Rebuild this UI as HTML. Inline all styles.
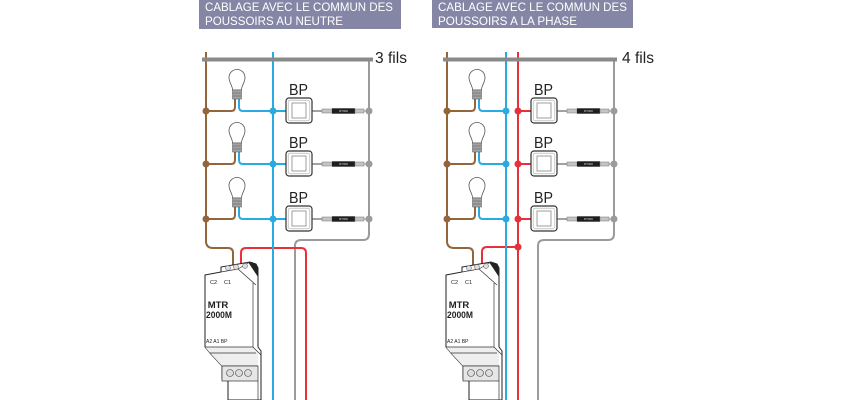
<!DOCTYPE html>
<html><head><meta charset="utf-8">
<style>html,body{margin:0;padding:0;background:#fff}svg{display:block}</style>
</head><body>
<svg width="841" height="400" viewBox="0 0 841 400" xmlns="http://www.w3.org/2000/svg" font-family="'Liberation Sans', sans-serif">
<defs>
  <g id="bulb">
    <path d="M-4.5,-21 C-4.5,-26 -8,-28 -8,-33.5 A8 8 0 1 1 8,-33.5 C8,-28 4.5,-26 4.5,-21 Z" fill="#fff" stroke="#555" stroke-width="0.8"/>
    <rect x="-4.5" y="-21" width="9" height="9" fill="#a3a3a3" stroke="#555" stroke-width="0.5"/>
    <path d="M-4.5,-18 H4.5 M-4.5,-15 H4.5" stroke="#555" stroke-width="0.6"/>
  </g>
  <g id="box">
    <rect x="0" y="0" width="26" height="25" rx="3" fill="#fff" stroke="#333" stroke-width="1.2"/>
    <rect x="2.2" y="2.2" width="21.6" height="20.6" rx="2" fill="#fff" stroke="#aaa" stroke-width="0.6"/>
    <rect x="6" y="5" width="14" height="15" fill="#fff" stroke="#888" stroke-width="0.8"/>
  </g>
  <g id="res">
    <line x1="0" y1="0" x2="12" y2="0" stroke="#444" stroke-width="1"/>
    <rect x="10" y="-2" width="10" height="4" fill="#c4c4c4" stroke="#777" stroke-width="0.5"/>
    <rect x="20" y="-2.7" width="23" height="5.4" fill="#1e1e1e"/>
    <text x="31.5" y="1.2" font-size="3" fill="#ddd" text-anchor="middle">RT000</text>
    <rect x="43" y="-2" width="9" height="4" fill="#c4c4c4" stroke="#777" stroke-width="0.5"/>
    <line x1="52" y1="0" x2="57" y2="0" stroke="#999" stroke-width="1.2"/>
  </g>
  <g id="mtr">
    <polygon points="205,275 221,272 221,267 250,262 256,264 258,268 258,347 261,351 261,400 228,400 228,381 222,379 222,366 210,353 205,347" fill="#fff" stroke="#222" stroke-width="1"/>
    <polygon points="205,347 253,347 258,352 258,366 222,366 210,353" fill="#eeeeee" stroke="none"/>
    <polygon points="248,262 256,264 258,268 258,277" fill="#222"/>
    <path d="M221,272 L238,269 L256,285 M238,269 L250,262 M253,283 V347 M205,347 H253 L261,355 M210,353 H256 M222,366 H258" stroke="#333" stroke-width="0.7" fill="none"/>
    <circle cx="228" cy="268" r="2.5" fill="#ddd" stroke="#555" stroke-width="0.5"/>
    <circle cx="236" cy="267" r="2.5" fill="#ddd" stroke="#555" stroke-width="0.5"/>
    <circle cx="245" cy="266" r="2.5" fill="#ddd" stroke="#555" stroke-width="0.5"/>
    <rect x="222" y="366" width="36" height="15" fill="#e6e6e6" stroke="#333" stroke-width="0.7"/>
    <circle cx="230" cy="373" r="3.5" fill="#ddd" stroke="#444" stroke-width="0.6"/>
    <circle cx="239" cy="373" r="3.5" fill="#ddd" stroke="#444" stroke-width="0.6"/>
    <circle cx="248" cy="373" r="3.5" fill="#ddd" stroke="#444" stroke-width="0.6"/>
    <line x1="258" y1="381" x2="258" y2="400" stroke="#333" stroke-width="0.7"/>
  </g>
</defs>

<!-- ================= LEFT DIAGRAM ================= -->
<rect x="199" y="0" width="202" height="29" fill="#8586a5"/>
<text x="205" y="11" font-size="11.5" fill="#fff" textLength="188" lengthAdjust="spacingAndGlyphs">CABLAGE AVEC LE COMMUN DES</text>
<text x="205" y="25" font-size="11.5" fill="#fff" textLength="138" lengthAdjust="spacingAndGlyphs">POUSSOIRS AU NEUTRE</text>

<g fill="none" stroke-width="2">
  <path d="M206,52 V241 Q206,248 213,248 H228 Q233,248 233,253 V266" stroke="#94643a"/>
  <path d="M369,60 V234 Q369,240 363,240 H301 Q295,240 295,246 V400" stroke="#9b9b9b"/>
  <path d="M241,264 V253 Q241,248 246,248 H301 Q306,248 306,253 V400" stroke="#e8303a"/>
  <path d="M273,52 V400" stroke="#29abe2"/>
  <!-- rows -->
  <path d="M235,99 V107 Q235,111 231,111 H206" stroke="#94643a"/>
  <path d="M239,99 V107 Q239,111 243,111 H286" stroke="#29abe2"/>
  <path d="M235,152 V160 Q235,164 231,164 H206" stroke="#94643a"/>
  <path d="M239,152 V160 Q239,164 243,164 H286" stroke="#29abe2"/>
  <path d="M235,207 V215 Q235,219 231,219 H206" stroke="#94643a"/>
  <path d="M239,207 V215 Q239,219 243,219 H286" stroke="#29abe2"/>
  <!-- bottom wires -->
  <path d="M230,381 V400" stroke="#e8303a"/>
  <path d="M239,381 V400" stroke="#29abe2"/>
  <path d="M248,381 V400" stroke="#999" stroke-width="1.5"/>
</g>
<rect x="202" y="57.5" width="171" height="4" fill="#8a8a8a"/>
<text x="375" y="63" font-size="16" fill="#222" textLength="32" lengthAdjust="spacingAndGlyphs">3 fils</text>

<use href="#bulb" x="237" y="111"/>
<use href="#bulb" x="237" y="164"/>
<use href="#bulb" x="237" y="219"/>
<use href="#box" x="286" y="98"/>
<use href="#box" x="286" y="151"/>
<use href="#box" x="286" y="206"/>
<use href="#res" x="312" y="111"/>
<use href="#res" x="312" y="164"/>
<use href="#res" x="312" y="219"/>
<g font-size="16" fill="#222" text-anchor="middle">
  <text x="298.5" y="95" textLength="19" lengthAdjust="spacingAndGlyphs">BP</text>
  <text x="298.5" y="148" textLength="19" lengthAdjust="spacingAndGlyphs">BP</text>
  <text x="298.5" y="203" textLength="19" lengthAdjust="spacingAndGlyphs">BP</text>
</g>
<g>
  <circle cx="206" cy="111" r="3.5" fill="#94643a"/><circle cx="206" cy="164" r="3.5" fill="#94643a"/><circle cx="206" cy="219" r="3.5" fill="#94643a"/>
  <circle cx="273" cy="111" r="3.5" fill="#29abe2"/><circle cx="273" cy="164" r="3.5" fill="#29abe2"/><circle cx="273" cy="219" r="3.5" fill="#29abe2"/>
  <circle cx="369" cy="111" r="3.5" fill="#9b9b9b"/><circle cx="369" cy="164" r="3.5" fill="#9b9b9b"/><circle cx="369" cy="219" r="3.5" fill="#9b9b9b"/>
</g>

<use href="#mtr" x="0" y="0"/>
<g fill="#222">
  <text x="210" y="284" font-size="5.5">C2</text>
  <text x="224" y="284" font-size="5.5">C1</text>
  <text x="218" y="308" font-size="9.5" font-weight="bold" text-anchor="middle">MTR</text>
  <text x="219" y="318" font-size="9.5" font-weight="bold" text-anchor="middle" textLength="26" lengthAdjust="spacingAndGlyphs">2000M</text>
  <text x="206" y="343" font-size="5">A2 A1 BP</text>
</g>

<!-- ================= RIGHT DIAGRAM ================= -->
<rect x="432" y="0" width="201" height="28" fill="#8586a5"/>
<text x="438" y="11" font-size="11.5" fill="#fff" textLength="189" lengthAdjust="spacingAndGlyphs">CABLAGE AVEC LE COMMUN DES</text>
<text x="438" y="25" font-size="11.5" fill="#fff" textLength="139" lengthAdjust="spacingAndGlyphs">POUSSOIRS A LA PHASE</text>

<g fill="none" stroke-width="2">
  <path d="M447,52 V241 Q447,248 454,248 H468 Q473,248 473,253 V266" stroke="#94643a"/>
  <path d="M614,60 V234 Q614,240 608,240 H544 Q538,240 538,246 V400" stroke="#9b9b9b"/>
  <path d="M518,247 H487 Q482,247 482,252 V264" stroke="#e8303a"/>
  <path d="M506,52 V400" stroke="#29abe2"/>
  <path d="M518,52 V400" stroke="#e8303a"/>
  <path d="M475,99 V107 Q475,111 471,111 H447" stroke="#94643a"/>
  <path d="M479,99 V107 Q479,111 483,111 H506" stroke="#29abe2"/>
  <path d="M518,111 H531" stroke="#e8303a"/>
  <path d="M475,152 V160 Q475,164 471,164 H447" stroke="#94643a"/>
  <path d="M479,152 V160 Q479,164 483,164 H506" stroke="#29abe2"/>
  <path d="M518,164 H531" stroke="#e8303a"/>
  <path d="M475,207 V215 Q475,219 471,219 H447" stroke="#94643a"/>
  <path d="M479,207 V215 Q479,219 483,219 H506" stroke="#29abe2"/>
  <path d="M518,219 H531" stroke="#e8303a"/>
  <path d="M472,381 V400" stroke="#29abe2"/>
  <path d="M481,381 V400" stroke="#e8303a"/>
  <path d="M489,381 V400" stroke="#999" stroke-width="1.5"/>
</g>
<rect x="443" y="57.5" width="174" height="4" fill="#8a8a8a"/>
<text x="622" y="63" font-size="16" fill="#222" textLength="32" lengthAdjust="spacingAndGlyphs">4 fils</text>

<use href="#bulb" x="477" y="111"/>
<use href="#bulb" x="477" y="164"/>
<use href="#bulb" x="477" y="219"/>
<use href="#box" x="531" y="98"/>
<use href="#box" x="531" y="151"/>
<use href="#box" x="531" y="206"/>
<use href="#res" x="557" y="111"/>
<use href="#res" x="557" y="164"/>
<use href="#res" x="557" y="219"/>
<g font-size="16" fill="#222" text-anchor="middle">
  <text x="543.5" y="95" textLength="19" lengthAdjust="spacingAndGlyphs">BP</text>
  <text x="543.5" y="148" textLength="19" lengthAdjust="spacingAndGlyphs">BP</text>
  <text x="543.5" y="203" textLength="19" lengthAdjust="spacingAndGlyphs">BP</text>
</g>
<g>
  <circle cx="447" cy="111" r="3.5" fill="#94643a"/><circle cx="447" cy="164" r="3.5" fill="#94643a"/><circle cx="447" cy="219" r="3.5" fill="#94643a"/>
  <circle cx="506" cy="111" r="3.5" fill="#29abe2"/><circle cx="506" cy="164" r="3.5" fill="#29abe2"/><circle cx="506" cy="219" r="3.5" fill="#29abe2"/>
  <circle cx="518" cy="111" r="3.5" fill="#e8303a"/><circle cx="518" cy="164" r="3.5" fill="#e8303a"/><circle cx="518" cy="219" r="3.5" fill="#e8303a"/>
  <circle cx="518" cy="247" r="3.5" fill="#e8303a"/>
  <circle cx="614" cy="111" r="3.5" fill="#9b9b9b"/><circle cx="614" cy="164" r="3.5" fill="#9b9b9b"/><circle cx="614" cy="219" r="3.5" fill="#9b9b9b"/>
</g>

<use href="#mtr" x="241" y="0"/>
<g fill="#222">
  <text x="451" y="284" font-size="5.5">C2</text>
  <text x="465" y="284" font-size="5.5">C1</text>
  <text x="459" y="308" font-size="9.5" font-weight="bold" text-anchor="middle">MTR</text>
  <text x="460" y="318" font-size="9.5" font-weight="bold" text-anchor="middle" textLength="26" lengthAdjust="spacingAndGlyphs">2000M</text>
  <text x="447" y="343" font-size="5">A2 A1 BP</text>
</g>
</svg>
</body></html>
